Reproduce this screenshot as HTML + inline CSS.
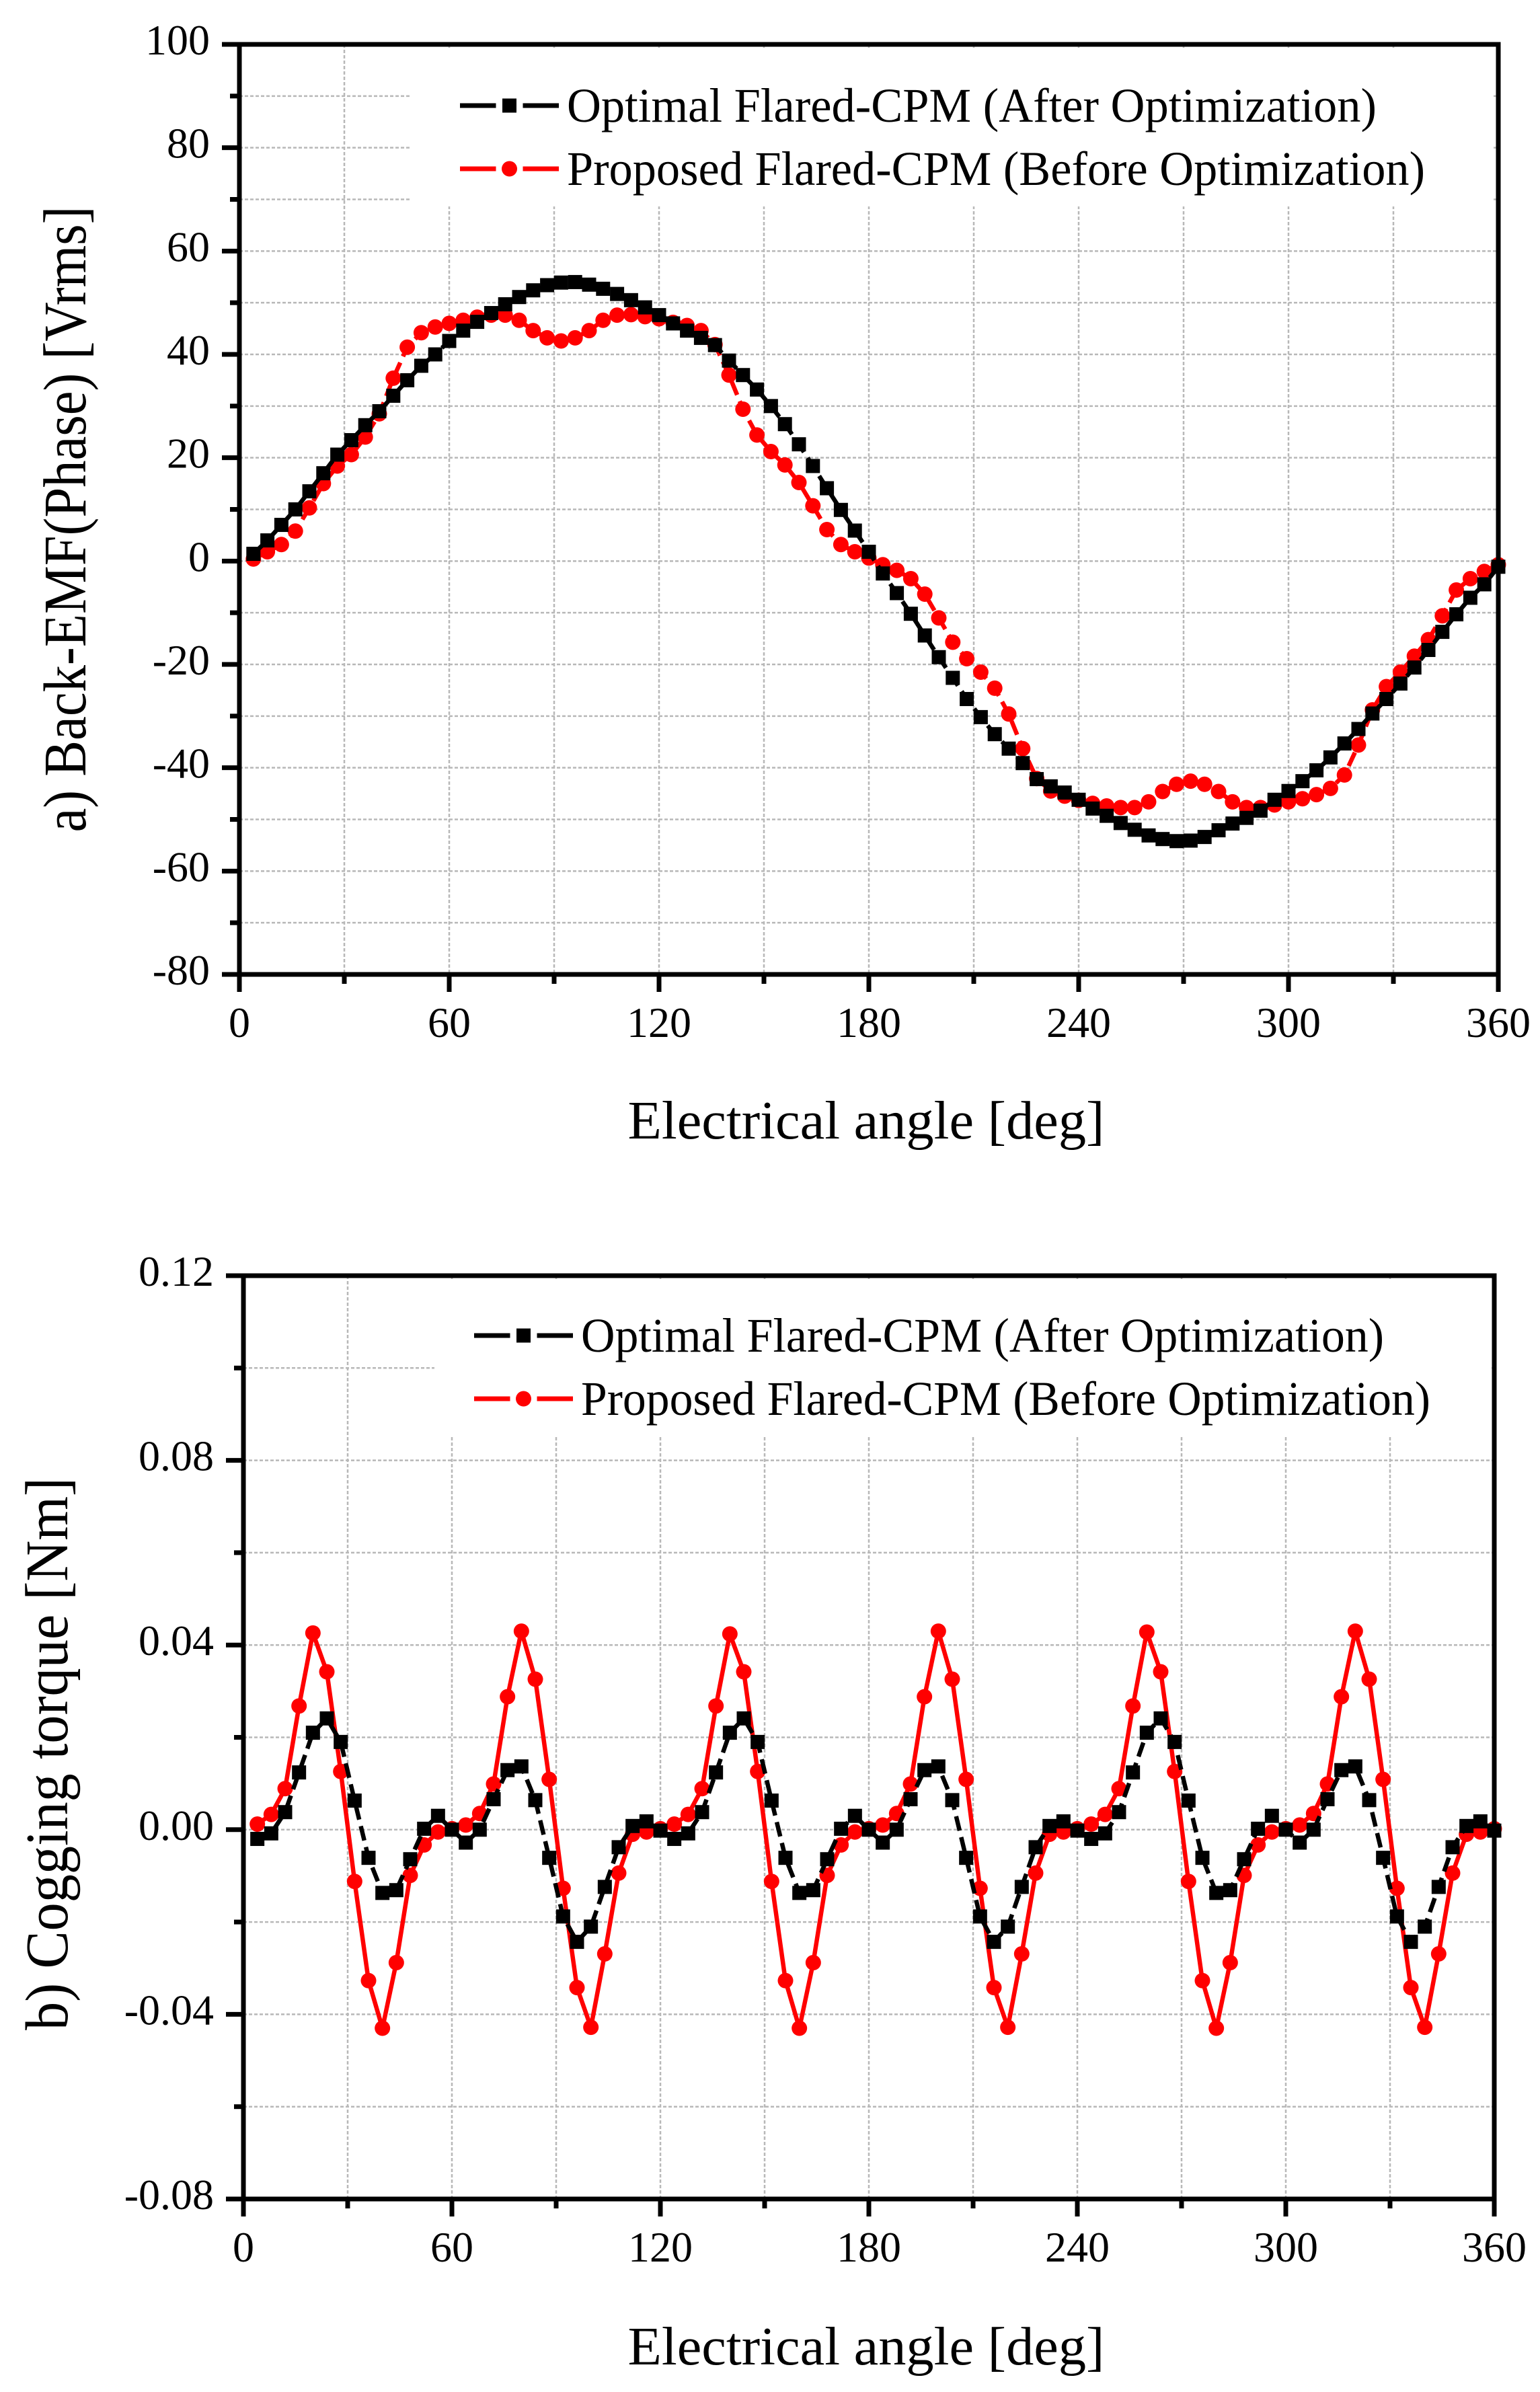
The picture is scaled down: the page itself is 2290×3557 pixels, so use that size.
<!DOCTYPE html>
<html><head><meta charset="utf-8"><style>
html,body{margin:0;padding:0;background:#fff;}
svg{display:block;}
text{font-family:"Liberation Serif",serif;fill:#000;}
</style></head><body>
<svg id="fig" width="2290" height="3557" viewBox="0 0 2290 3557" xmlns="http://www.w3.org/2000/svg"></svg>
<script>
// ---- Chart A: Back-EMF ----
const angleA = [4,8,12,16,20,24,28,32,36,40,44,48,52,56,60,64,68,72,76,80,84,88,92,96,100,104,108,112,116,120,124,128,132,136,140,144,148,152,156,160,164,168,172,176,180,184,188,192,196,200,204,208,212,216,220,224,228,232,236,240,244,248,252,256,260,264,268,272,276,280,284,288,292,296,300,304,308,312,316,320,324,328,332,336,340,344,348,352,356,360];
const emfOptimal = [1.4,4,7,10,13.5,17,20.6,23.4,26.3,29,32,35,37.8,40,42.6,44.6,46.3,48,49.7,51.1,52.4,53.4,53.9,54,53.5,52.7,51.7,50.5,49.1,47.6,46,44.6,43.2,41.8,38.8,36,33.2,30,26.5,22.6,18.4,14.1,9.9,5.9,1.8,-2.4,-6.2,-10.2,-14.4,-18.6,-22.6,-26.7,-30.2,-33.5,-36.3,-39.1,-42.2,-43.6,-44.8,-46.2,-47.9,-49.3,-50.7,-52,-53.1,-53.8,-54.2,-54.1,-53.4,-52.1,-50.8,-49.7,-48.3,-46.2,-44.5,-42.6,-40.5,-38,-35.3,-32.5,-29.5,-26.7,-23.7,-20.6,-17.2,-13.7,-10.3,-7.1,-4.5,-1.1];
const emfProposed = [0.4,1.8,3.2,5.8,10.3,15,18.4,20.6,24,28.5,35.4,41.4,44.2,45.3,46,46.6,47.2,47.6,47.6,46.6,44.6,43.2,42.6,43.2,44.6,46.6,47.6,47.7,47.3,46.9,46.2,45.6,44.6,41.9,36,29.4,24.4,21.2,18.6,15.2,10.7,6.1,3.2,1.8,0.6,-0.7,-1.8,-3.4,-6.4,-11,-15.7,-18.9,-21.5,-24.6,-29.6,-36.3,-42.1,-44.5,-45.5,-46.3,-46.9,-47.4,-47.7,-47.7,-46.6,-44.6,-43.2,-42.6,-43.2,-44.6,-46.6,-47.7,-47.7,-47.2,-46.6,-46,-45.2,-44,-41.4,-35.6,-28.8,-24.3,-21.5,-18.4,-15.2,-10.6,-5.6,-3.4,-2,-0.7];
const xTicks = [0,60,120,180,240,300,360];
const yTicksA = [100,80,60,40,20,0,-20,-40,-60,-80];
const yTickLabelsA = ["100","80","60","40","20","0","-20","-40","-60","-80"];
// ---- Chart B: Cogging torque ----
const angleB = angleA.slice();
const torqueOptimal = [-0.002,-0.0008,0.0038,0.0124,0.021,0.0241,0.019,0.0063,-0.0061,-0.0137,-0.0131,-0.0064,0.0002,0.003,0,-0.0028,0,0.0066,0.0129,0.0137,0.0064,-0.0061,-0.0188,-0.0243,-0.021,-0.0124,-0.0038,0.0008,0.0018,-0.0002,
 -0.002,-0.0008,0.0038,0.0124,0.021,0.0241,0.019,0.0063,-0.0061,-0.0137,-0.0131,-0.0064,0.0002,0.003,0,-0.0028,0,0.0066,0.0129,0.0137,0.0064,-0.0061,-0.0188,-0.0243,-0.021,-0.0124,-0.0038,0.0008,0.0018,-0.0002,
 -0.002,-0.0008,0.0038,0.0124,0.021,0.0241,0.019,0.0063,-0.0061,-0.0137,-0.0131,-0.0064,0.0002,0.003,0,-0.0028,0,0.0066,0.0129,0.0137,0.0064,-0.0061,-0.0188,-0.0243,-0.021,-0.0124,-0.0038,0.0008,0.0018,-0.0002];
const torqueProposed = [0.0012,0.0033,0.0089,0.0268,0.0426,0.0342,0.0126,-0.0112,-0.0327,-0.043,-0.0288,-0.0099,-0.0033,-0.0005,0.0002,0.001,0.0035,0.0099,0.0288,0.043,0.0326,0.0109,-0.0127,-0.0342,-0.0428,-0.0269,-0.0094,-0.001,-0.0005,0.0002,
 0.0012,0.0033,0.0089,0.0268,0.0424,0.0342,0.0126,-0.0112,-0.0327,-0.043,-0.0288,-0.0099,-0.0033,-0.0005,0.0002,0.001,0.0035,0.0099,0.0288,0.043,0.0326,0.0109,-0.0127,-0.0342,-0.0428,-0.0269,-0.0094,-0.001,-0.0005,0.0002,
 0.0012,0.0033,0.0089,0.0268,0.0428,0.0342,0.0126,-0.0112,-0.0327,-0.043,-0.0288,-0.0099,-0.0033,-0.0005,0.0002,0.001,0.0035,0.0099,0.0288,0.043,0.0326,0.0109,-0.0127,-0.0342,-0.0428,-0.0269,-0.0094,-0.001,-0.0005,0.0002];
const yTicksB = [0.12,0.08,0.04,0,-0.04,-0.08];
const yTickLabelsB = ["0.12","0.08","0.04","0.00","-0.04","-0.08"];

const NS = "http://www.w3.org/2000/svg";
const svg = document.getElementById('fig');
function mk(tag, attrs, parent){const e=document.createElementNS(NS,tag);for(const k in attrs)e.setAttribute(k,attrs[k]);(parent||svg).appendChild(e);return e;}

function drawChart(cfg){
  const g = mk('g',{});
  
  
  const X = v => cfg.L + (v-0)/(360)*(cfg.R-cfg.L);
  const Y = v => cfg.T + (cfg.ymax-v)/(cfg.ymax-cfg.ymin)*(cfg.B-cfg.T);
  const grid = mk('g',{stroke:'#b8b8b8','stroke-width':2.5,'stroke-dasharray':'5 3',fill:'none'},g);
  
  
  for(let a=30;a<360;a+=30){mk('line',{x1:X(a),x2:X(a),y1:cfg.T,y2:cfg.B},grid);}
  for(let v=cfg.ymin+cfg.minor;v<cfg.ymax-1e-9;v+=cfg.minor){mk('line',{x1:cfg.L,x2:cfg.R,y1:Y(v),y2:Y(v)},grid);}
  const lb = mk('rect',{x:cfg.legBox[0],y:cfg.legBox[1],width:cfg.legBox[2],height:cfg.legBox[3],fill:'#fff'},g);
  
  
  function series(xs, ys, color, dashed, shape, nm){
    const sg = mk('g',{},g);
    
    
    const pts = xs.map((a,i)=>X(a).toFixed(1)+','+Y(ys[i]).toFixed(1)).join(' ');
    const pl = mk('polyline',{points:pts,fill:'none',stroke:color,'stroke-width':6.5,'stroke-linejoin':'round'},sg);
    if(dashed) pl.setAttribute('stroke-dasharray','22 10');
    
    
    xs.forEach((a,i)=>{
      let m;
      if(shape==='sq') m = mk('rect',{x:X(a)-10.5,y:Y(ys[i])-10.5,width:21,height:21,fill:color},sg);
      else m = mk('circle',{cx:X(a),cy:Y(ys[i]),r:11.5,fill:color},sg);
      
      
    });
  }
  series(cfg.xs, cfg.s2, '#ff0000', cfg.redDashed, 'ci', 'series-proposed');
  series(cfg.xs, cfg.s1, '#000000', true, 'sq', 'series-optimal');
  const ax = mk('g',{stroke:'#000','stroke-width':7,fill:'none'},g);
  
  
  mk('rect',{x:cfg.L,y:cfg.T,width:cfg.R-cfg.L,height:cfg.B-cfg.T},ax);
  for(let a=0;a<=360;a+=30){
    const major = a%60===0;
    mk('line',{x1:X(a),x2:X(a),y1:cfg.B,y2:cfg.B+(major?26:14)},ax);
  }
  xTicks.forEach(a=>{
    const t = mk('text',{x:X(a),y:cfg.B+93,'font-size':64,'text-anchor':'middle'},g);
    t.textContent = a;
    
    
  });
  for(let v=cfg.ymin;v<=cfg.ymax+1e-9;v+=cfg.minor){
    const major = Math.abs(Math.round(v/cfg.major)*cfg.major - v) < 1e-9;
    mk('line',{x1:cfg.L,x2:cfg.L-(major?26:14),y1:Y(v),y2:Y(v)},ax);
  }
  cfg.yTicks.forEach((v,i)=>{
    const t = mk('text',{x:cfg.L-44,y:Y(v)+15,'font-size':64,'text-anchor':'end'},g);
    t.textContent = cfg.yLabels[i];
    
    
  });
  const xt = mk('text',{x:(cfg.L+cfg.R)/2-4,y:cfg.xTitleY,'font-size':80,'text-anchor':'middle',textLength:709,lengthAdjust:'spacingAndGlyphs'},g);
  xt.textContent = 'Electrical angle [deg]';
  
  
  const yt = mk('text',{x:0,y:0,'font-size':90,'text-anchor':'middle',textLength:cfg.yTitleLen,lengthAdjust:'spacingAndGlyphs',transform:`translate(${cfg.yTitleX},${cfg.yTitleY}) rotate(-90)`},g);
  yt.textContent = cfg.yTitle;
  
  
  const lg = mk('g',{},g);
  
  
  const entries = [['Optimal Flared-CPM (After Optimization)','#000','sq',cfg.legW[0]],['Proposed Flared-CPM (Before Optimization)','#ff0000','ci',cfg.legW[1]]];
  entries.forEach((e,i)=>{
    const y = cfg.legY[i];
    const eg = mk('g',{},lg);
    
    
    const x0 = cfg.legX, x1 = cfg.legX+147, cx=(x0+x1)/2;
    mk('line',{x1:x0,x2:cx-20,y1:y,y2:y,stroke:e[1],'stroke-width':7},eg);
    mk('line',{x1:cx+20,x2:x1,y1:y,y2:y,stroke:e[1],'stroke-width':7},eg);
    if(e[2]==='sq') mk('rect',{x:cx-10.5,y:y-10.5,width:21,height:21,fill:e[1]},eg);
    else mk('circle',{cx:cx,cy:y,r:11.5,fill:e[1]},eg);
    const t = mk('text',{x:x1+12,y:y+24,'font-size':72,textLength:e[3],lengthAdjust:'spacingAndGlyphs'},eg);
    t.textContent = e[0];
    
    
  });
}

drawChart({name:'back-emf-chart',L:356,R:2228,T:66,B:1449,ymin:-80,ymax:100,minor:10,major:20,
  xs:angleA,s1:emfOptimal,s2:emfProposed,redDashed:true,yTicks:yTicksA,yLabels:yTickLabelsA,
  legBox:[609,72,1612,235],legX:684,legY:[157,251],legW:[1204,1276],
  xTitleY:1693,yTitle:'a) Back-EMF(Phase) [Vrms]',yTitleX:127,yTitleY:772,yTitleLen:931});
drawChart({name:'cogging-torque-chart',L:362,R:2222,T:1897,B:3270,ymin:-0.08,ymax:0.12,minor:0.02,major:0.04,
  xs:angleB,s1:torqueOptimal,s2:torqueProposed,redDashed:false,yTicks:yTicksB,yLabels:yTickLabelsB,
  legBox:[646,1903,1572,234],legX:705,legY:[1986,2080],legW:[1194,1263],
  xTitleY:3516,yTitle:'b) Cogging torque [Nm]',yTitleX:100,yTitleY:2608,yTitleLen:822});
</script>
</body></html>
